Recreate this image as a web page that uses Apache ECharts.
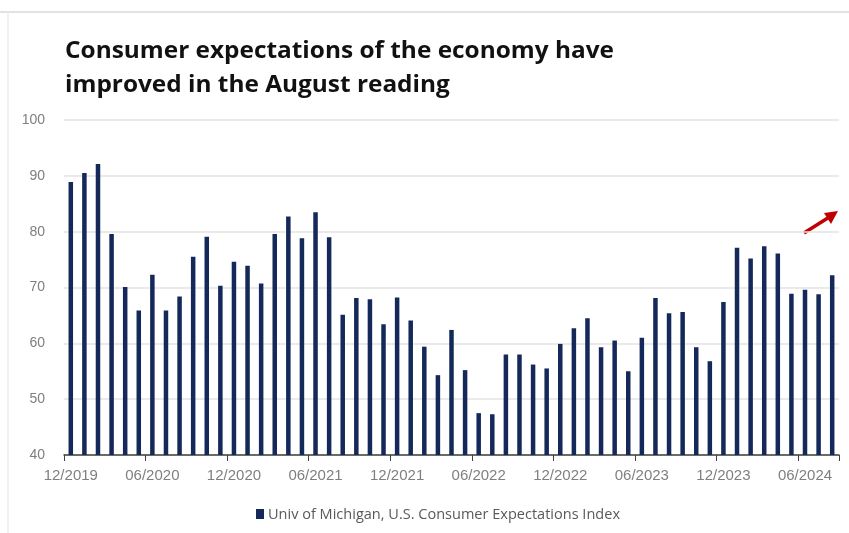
<!DOCTYPE html>
<html>
<head>
<meta charset="utf-8">
<script src="https://cdn.jsdelivr.net/npm/echarts@6/dist/echarts.min.js"></script>
<style>
html,body{margin:0;padding:0;background:#fff;}
#chart{width:849px;height:533px;}
</style>
</head>
<body>
<div id="chart"></div>
<script>
const categories = [
  '12/2019','01/2020','02/2020','03/2020','04/2020','05/2020','06/2020','07/2020','08/2020','09/2020','10/2020','11/2020',
  '12/2020','01/2021','02/2021','03/2021','04/2021','05/2021','06/2021','07/2021','08/2021','09/2021','10/2021','11/2021',
  '12/2021','01/2022','02/2022','03/2022','04/2022','05/2022','06/2022','07/2022','08/2022','09/2022','10/2022','11/2022',
  '12/2022','01/2023','02/2023','03/2023','04/2023','05/2023','06/2023','07/2023','08/2023','09/2023','10/2023','11/2023',
  '12/2023','01/2024','02/2024','03/2024','04/2024','05/2024','06/2024','07/2024','08/2024'
];
const expectations = [
  88.9, 90.5, 92.1, 79.6, 70.1, 65.9, 72.3, 65.9, 68.4, 75.5, 79.1, 70.3,
  74.6, 73.9, 70.7, 79.6, 82.7, 78.8, 83.5, 79.0, 65.1, 68.1, 67.9, 63.4,
  68.2, 64.1, 59.4, 54.3, 62.4, 55.2, 47.5, 47.3, 58.0, 58.0, 56.2, 55.5,
  59.9, 62.7, 64.5, 59.3, 60.5, 55.0, 61.0, 68.1, 65.4, 65.6, 59.3, 56.8,
  67.4, 77.1, 75.2, 77.4, 76.1, 68.9, 69.6, 68.8, 72.2
];
const seriesName = 'Univ of Michigan, U.S. Consumer Expectations Index';
const titleLines = ['Consumer expectations of the economy have', 'improved in the August reading'];

const titleFont = '"Open Sans", "Liberation Sans", sans-serif';
const legendFont = '"Open Sans", "Liberation Sans", sans-serif';

// horizontal scale so a text run spans a given width
const measureCtx = document.createElement('canvas').getContext('2d');
function fitScale(text, weight, size, family, target) {
  measureCtx.font = weight + ' ' + size + 'px ' + family;
  const w = measureCtx.measureText(text).width;
  return w > 0 ? target / w : 1;
}
const titleSize = 23;
const titleScale = fitScale(titleLines[0], 'bold', titleSize, titleFont, 549);
const legendSize = 15;
const legendScale = fitScale(seriesName, 'normal', legendSize, legendFont, 352);

const barColor = '#14285a';
const chart = echarts.init(document.getElementById('chart'));
chart.setOption({
  backgroundColor: '#ffffff',
  animation: false,
  grid: { left: 64, right: 10, top: 120, bottom: 78, containLabel: false },
  xAxis: {
    type: 'category',
    data: categories,
    boundaryGap: true,
    axisLine: { show: true, lineStyle: { color: '#404040', width: 1.5 } },
    axisTick: { show: true, interval: function (i) { return i % 6 === 0; }, length: 6, lineStyle: { color: '#404040' } },
    axisLabel: {
      interval: 5,
      margin: 13,
      fontFamily: '"Liberation Sans", sans-serif',
      fontSize: 15,
      color: '#7f7f7f'
    },
    splitLine: { show: false }
  },
  yAxis: {
    type: 'value',
    min: 40,
    max: 100,
    interval: 10,
    axisLine: { show: false },
    axisTick: { show: false },
    axisLabel: {
      margin: 19,
      fontFamily: '"Liberation Sans", sans-serif',
      fontSize: 14,
      color: '#7f7f7f'
    },
    splitLine: { show: true, lineStyle: { color: '#e3e3e3', width: 1.5 } }
  },
  series: [{
    name: seriesName,
    type: 'bar',
    data: expectations,
    barWidth: 4.5,
    itemStyle: { color: barColor }
  }],
  graphic: [
    { type: 'line', silent: true, shape: { x1: 0, y1: 12, x2: 849, y2: 12 }, style: { stroke: '#e2e2e2', lineWidth: 2 } },
    { type: 'line', silent: true, shape: { x1: 8, y1: 12, x2: 8, y2: 533 }, style: { stroke: '#ececec', lineWidth: 1.5 } },
    { type: 'text', silent: true, x: 65, y: 51, scaleX: titleScale, originX: 0,
      style: { text: titleLines[0], fontFamily: titleFont, fontWeight: 'bold', fontSize: titleSize, fill: '#111111', verticalAlign: 'middle', align: 'left' } },
    { type: 'text', silent: true, x: 65, y: 85, scaleX: titleScale, originX: 0,
      style: { text: titleLines[1], fontFamily: titleFont, fontWeight: 'bold', fontSize: titleSize, fill: '#111111', verticalAlign: 'middle', align: 'left' } },
    { type: 'rect', silent: true, shape: { x: 256, y: 509, width: 8, height: 10 }, style: { fill: barColor } },
    { type: 'text', silent: true, x: 268, y: 514.5, scaleX: legendScale, originX: 0,
      style: { text: seriesName, fontFamily: legendFont, fontSize: legendSize, fill: '#595959', verticalAlign: 'middle', align: 'left' } },
    { type: 'line', silent: true, shape: { x1: 804, y1: 233, x2: 831, y2: 216 }, style: { stroke: '#c00000', lineWidth: 3.5 } },
    { type: 'polygon', silent: true, shape: { points: [[838, 211], [824, 213], [831, 224]] }, style: { fill: '#c00000' } }
  ]
});
</script>
</body>
</html>
